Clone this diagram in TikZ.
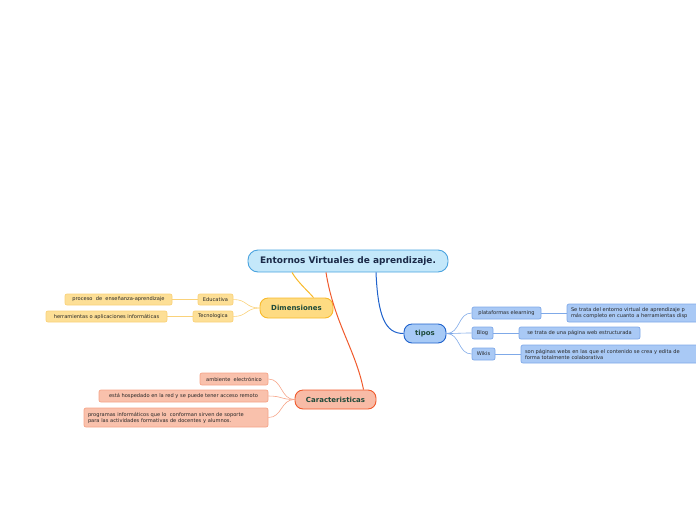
\documentclass[tikz,border=0pt]{standalone}
\usepackage{fontspec}
\setmainfont{DejaVu Sans}
\usetikzlibrary{calc}

\definecolor{rootfill}{HTML}{C4E8FA}
\definecolor{rootline}{HTML}{4AA3DF}
\definecolor{dimfill}{HTML}{FEDB82}
\definecolor{dimline}{HTML}{F8B92A}
\definecolor{dimsub}{HTML}{FDDF96}
\definecolor{dimsubline}{HTML}{FAD27A}
\definecolor{carfill}{HTML}{F8BBA6}
\definecolor{carline}{HTML}{F05A2C}
\definecolor{carsub}{HTML}{F9C1AC}
\definecolor{carsubline}{HTML}{F6A488}
\definecolor{tipfill}{HTML}{A7CAF6}
\definecolor{tipline}{HTML}{1F62CC}
\definecolor{tipsub}{HTML}{A9C9F5}
\definecolor{tipsubline}{HTML}{7FA9E8}
\definecolor{txtdark}{HTML}{1B2A48}
\definecolor{txtgreen}{HTML}{1D4A3A}

\tikzset{
  box/.style={draw, rounded corners=2pt, inner sep=0pt, line width=0.7pt,
              font=\fontsize{5.1}{6}\selectfont, text=black!85},
  mainbox/.style={draw, rounded corners=8pt, inner sep=0pt, line width=0.9pt,
              font=\fontsize{7}{8}\selectfont\bfseries, text=txtgreen},
  wbox/.style={box, align=left, text width=#1},
}

\begin{document}
\begin{tikzpicture}[x=1pt, y=-1pt]
  \useasboundingbox (0,0) rectangle (696,520);

  % ----------------------------------------------------
  % nodo centrale
  % ----------------------------------------------------
  \node[mainbox, fill=rootfill, draw=rootline, text=txtdark, rounded corners=10pt,
        minimum width=200pt, minimum height=22pt,
        font=\fontsize{9}{10}\selectfont\bfseries] (root) at (348,261)
        {Entornos Virtuales de aprendizaje.};

  % ----------------------------------------------------
  % 1. Dimensiones
  % ----------------------------------------------------
  \node[mainbox, fill=dimfill, draw=dimline, minimum width=73pt, minimum height=20pt]
        (dim) at (296.5,308) {Dimensiones};
  \node[box, fill=dimsub, draw=dimsubline, minimum width=35pt, minimum height=11pt]
        (edu) at (215.5,299.5) {Educativa};
  \node[box, fill=dimsub, draw=dimsubline, minimum width=40pt, minimum height=11pt]
        (tec) at (213,316.5) {Tecnologica};
  \node[box, fill=dimsub, draw=dimsubline, minimum width=107pt, minimum height=11pt]
        (proc) at (118.5,299.5) {proceso~~de~~enseñanza-aprendizaje};
  \node[box, fill=dimsub, draw=dimsubline, minimum width=121pt, minimum height=11pt]
        (herr) at (106.5,316.5) {herramientas o aplicaciones informáticas};

  \draw[dimline, line width=1pt] ([xshift=-56pt]root.south)
        .. controls ([xshift=-50pt,yshift=-10pt]root.south) and ([xshift=10pt,yshift=8pt]dim.north) .. ([xshift=17pt]dim.north);
  \foreach \s in {edu, tec}
    \draw[dimsubline, line width=0.6pt] (dim.west)
          .. controls ([xshift=-14pt]dim.west) and ([xshift=14pt]\s.east) .. (\s.east);
  \draw[dimsubline, line width=0.6pt] (edu) -- (proc);
  \draw[dimsubline, line width=0.6pt] (tec) -- (herr);

  % ----------------------------------------------------
  % 2. Caracteristicas
  % ----------------------------------------------------
  \node[mainbox, fill=carfill, draw=carline, minimum width=81pt, minimum height=19pt]
        (car) at (335.5,399.5) {Caracteristicas};
  \node[box, fill=carsub, draw=carsubline, minimum width=68pt, minimum height=12pt]
        (amb) at (234,379) {ambiente~~electrónico};
  \node[box, fill=carsub, draw=carsubline, minimum width=169pt, minimum height=12pt]
        (hosp) at (183.5,396) {está hospedado en la red y se puede tener acceso remoto};
  \node[wbox=176pt, fill=carsub, draw=carsubline, minimum height=19pt, inner xsep=4pt]
        (prog) at (176,417.5) {programas informáticos que lo~~conforman sirven de soporte\\
        para las actividades formativas de docentes y alumnos.};

  \draw[carline, line width=1pt] ([xshift=-22pt]root.south)
        .. controls ([xshift=-14pt,yshift=-50pt]root.south) and ([xshift=20pt,yshift=40pt]car.north) .. ([xshift=28pt]car.north);
  \foreach \s in {amb, hosp, prog}
    \draw[carsubline, line width=0.6pt] (car.west)
          .. controls ([xshift=-14pt]car.west) and ([xshift=14pt]\s.east) .. (\s.east);

  % ----------------------------------------------------
  % 3. tipos
  % ----------------------------------------------------
  \node[mainbox, fill=tipfill, draw=tipline, minimum width=42pt, minimum height=19pt]
        (tip) at (425,333.5) {tipos};
  \node[box, fill=tipsub, draw=tipsubline, minimum width=69pt, minimum height=12pt]
        (plat) at (506.5,313) {plataformas elearning};
  \node[box, fill=tipsub, draw=tipsubline, minimum width=21pt, minimum height=12pt]
        (blog) at (482.5,333) {Blog};
  \node[box, fill=tipsub, draw=tipsubline, minimum width=23pt, minimum height=12pt]
        (wik) at (483.5,354) {Wikis};
  \node[wbox=145pt, fill=tipsub, draw=tipsubline, minimum height=18pt, inner xsep=4pt]
        (setr) at (643.5,313) {Se trata del entorno virtual de aprendizaje p\\
        más completo en cuanto a herramientas disp};
  \node[box, fill=tipsub, draw=tipsubline, minimum width=121pt, minimum height=12pt]
        (web) at (579.5,333) {se trata de una página web estructurada};
  \node[wbox=191pt, fill=tipsub, draw=tipsubline, minimum height=18pt, inner xsep=4pt]
        (son) at (620.5,354) {son~páginas webs en~las que el contenido se crea y edita de\\
        forma totalmente colaborativa};

  \draw[tipline, line width=1pt] ([xshift=28pt]root.south)
        .. controls ([xshift=30pt,yshift=-45pt]root.south) and ([xshift=-18pt]tip.west) .. (tip.west);
  \foreach \s in {plat, blog, wik}
    \draw[tipsubline, line width=0.6pt] (tip.east)
          .. controls ([xshift=14pt]tip.east) and ([xshift=-14pt]\s.west) .. (\s.west);
  \draw[tipsubline, line width=0.6pt] (plat) -- (setr);
  \draw[tipsubline, line width=0.6pt] (blog) -- (web);
  \draw[tipsubline, line width=0.6pt] (wik) -- (son);

\end{tikzpicture}
\end{document}
